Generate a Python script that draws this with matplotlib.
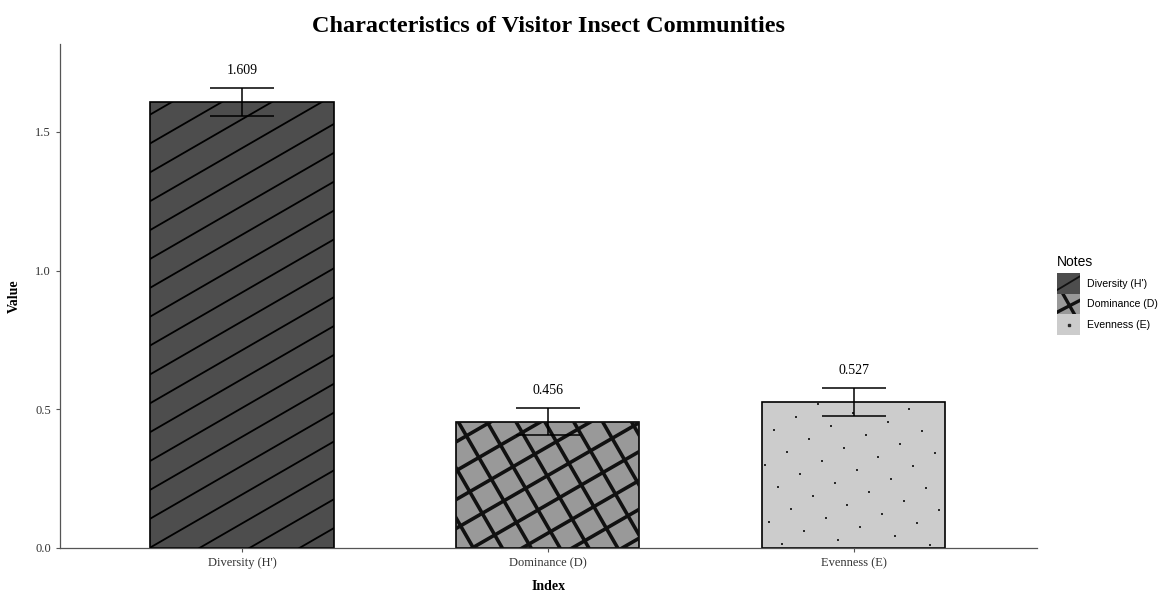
import numpy as np
import matplotlib
matplotlib.use("Agg")
import matplotlib.pyplot as plt
from matplotlib.patches import Patch, Rectangle
from matplotlib.lines import Line2D
from matplotlib.collections import LineCollection
from matplotlib.legend_handler import HandlerBase

# ---- data ----
categories = ["Diversity (H')", "Dominance (D)", "Evenness (E)"]
values = [1.609, 0.456, 0.527]
errors = [0.05, 0.05, 0.05]
labels = ["1.609", "0.456", "0.527"]
fill_colors = ["#4d4d4d", "#999999", "#cccccc"]
pattern_kinds = ["stripe", "cross", "dots"]

W, H, DPI = 1159, 593, 100
fig = plt.figure(figsize=(W / DPI, H / DPI), dpi=DPI)
ax = fig.add_axes([60 / W, (H - 548) / H, (1037 - 60) / W, (548 - 44) / H])

x = np.arange(1, len(categories) + 1)
bars = ax.bar(x, values, width=0.6, color=fill_colors, edgecolor="black",
              linewidth=1.2, zorder=2)
ax.errorbar(x, values, yerr=errors, fmt="none", ecolor="black",
            elinewidth=1.1, capsize=23, capthick=1.1, zorder=4)
for xi, v, e, lab in zip(x, values, errors, labels):
    ax.text(xi, v + e + 0.063, lab, ha="center", va="center",
            fontsize=10, family="Liberation Serif", color="black")

ax.set_xlim(0.405, 3.6)
ax.set_ylim(0, 1.817)
ax.set_xticks(x)
ax.set_xticklabels(categories, family="Liberation Serif", fontsize=9)
ax.set_yticks([0.0, 0.5, 1.0, 1.5])
ax.set_yticklabels(["0.0", "0.5", "1.0", "1.5"], family="Liberation Serif", fontsize=9)
ax.tick_params(axis="both", length=3, width=0.8, color="#555555", labelcolor="#333333")
for s in ["top", "right"]:
    ax.spines[s].set_visible(False)
for s in ["left", "bottom"]:
    ax.spines[s].set_color("#555555")
    ax.spines[s].set_linewidth(0.9)
ax.set_xlabel("Index", family="Liberation Serif", fontsize=10, fontweight="bold", labelpad=8)
ax.set_ylabel("Value", family="Liberation Serif", fontsize=10, fontweight="bold", labelpad=10)
fig.suptitle("Characteristics of Visitor Insect Communities", family="Liberation Serif",
             fontsize=17.5, fontweight="bold", x=(60 + 1037) / 2 / W, y=1 - 26 / H, va="center")

# ---- fill patterns, computed in pixel space from each bar's geometry ----
inv = ax.transData.inverted()


def bar_pixel_box(patch):
    x0, y0 = patch.get_x(), patch.get_y()
    x1, y1 = x0 + patch.get_width(), y0 + patch.get_height()
    p = ax.transData.transform([[x0, y0], [x1, y1]])
    return p[0, 0], p[0, 1], p[1, 0], p[1, 1]


def line_family(patch, angle_deg, spacing, lw, color="black", phase=0.0):
    bx0, by0, bx1, by1 = bar_pixel_box(patch)
    th = np.deg2rad(angle_deg)
    d = np.array([np.cos(th), np.sin(th)])
    n = np.array([-np.sin(th), np.cos(th)])
    c = np.array([(bx0 + bx1) / 2, (by0 + by1) / 2])
    L = np.hypot(bx1 - bx0, by1 - by0)
    kmax = int(np.ceil(L / spacing)) + 1
    segs = []
    for k in range(-kmax, kmax + 1):
        p = c + n * (k * spacing + phase)
        segs.append([inv.transform(p - L * d), inv.transform(p + L * d)])
    lc = LineCollection(segs, colors=color, linewidths=lw, zorder=3)
    ax.add_collection(lc)
    lc.set_clip_path(patch)


def dot_lattice(patch, angle_deg, spacing, size, color="#2a2a2a"):
    bx0, by0, bx1, by1 = bar_pixel_box(patch)
    th = np.deg2rad(angle_deg)
    a = spacing * np.array([np.cos(th), np.sin(th)])
    b = spacing * np.array([-np.sin(th), np.cos(th)])
    c = np.array([(bx0 + bx1) / 2, (by0 + by1) / 2])
    N = 20
    pts = []
    for i in range(-N, N):
        for j in range(-N, N):
            p = c + i * a + j * b + np.array([3.0, 5.0])
            if bx0 + 1 < p[0] < bx1 - 1 and by0 + 1 < p[1] < by1 - 1:
                pts.append(p)
    pts = inv.transform(np.array(pts))
    ax.scatter(pts[:, 0], pts[:, 1], marker="s", s=size, color=color,
               linewidths=0, zorder=3)


line_family(bars[0], 30, 25, 1.3, phase=3)
line_family(bars[1], 30, 25, 2.6, color="#111111", phase=8)
line_family(bars[1], -60, 25, 2.6, color="#111111", phase=4)
dot_lattice(bars[2], 30.5, 25.5, 4.5)


# ---- legend with pattern swatches ----
class SwatchHandler(HandlerBase):
    def __init__(self, kind):
        super().__init__()
        self.kind = kind

    def create_artists(self, legend, orig_handle, xdescent, ydescent,
                       width, height, fontsize, trans):
        x0, y0 = -xdescent, -ydescent
        rect = Rectangle((x0, y0), width, height, facecolor=orig_handle.get_facecolor(),
                         edgecolor="none", transform=trans)
        arts = [rect]
        if self.kind == "stripe":
            ln = Line2D([x0 - 0.2 * width, x0 + 1.2 * width],
                        [y0 + 0.05 * height, y0 + 1.0 * height],
                        color="#111111", lw=1.3, transform=trans)
            ln.set_clip_path(rect)
            arts.append(ln)
        elif self.kind == "cross":
            l1 = Line2D([x0 + 0.2 * width, x0 + 0.8 * width],
                        [y0 + 1.1 * height, y0 - 0.1 * height],
                        color="#111111", lw=2.4, transform=trans)
            l2 = Line2D([x0 - 0.1 * width, x0 + 1.1 * width],
                        [y0 + 0.05 * height, y0 + 0.75 * height],
                        color="#111111", lw=2.4, transform=trans)
            for ln in (l1, l2):
                ln.set_clip_path(rect)
                arts.append(ln)
        else:
            dot = Line2D([x0 + 0.5 * width], [y0 + 0.5 * height], marker="s",
                         markersize=1.6, color="#2a2a2a", lw=0, transform=trans)
            arts.append(dot)
        return arts


handles = [Patch(facecolor=c) for c in fill_colors]
leg = fig.legend(handles, categories, title="Notes", loc="upper left",
                 bbox_to_anchor=(1055 / W, 1 - 253 / H), frameon=False,
                 prop={"family": "Liberation Sans", "size": 7.6},
                 title_fontproperties={"family": "Liberation Sans", "size": 10.0},
                 handlelength=2.2, handleheight=2.62, labelspacing=0.0,
                 handletextpad=0.6, borderaxespad=0, borderpad=0.2,
                 handler_map={h: SwatchHandler(k) for h, k in zip(handles, pattern_kinds)})
leg._legend_box.align = "left"
leg._legend_box.sep = 3

fig.savefig("out.png", dpi=DPI)
